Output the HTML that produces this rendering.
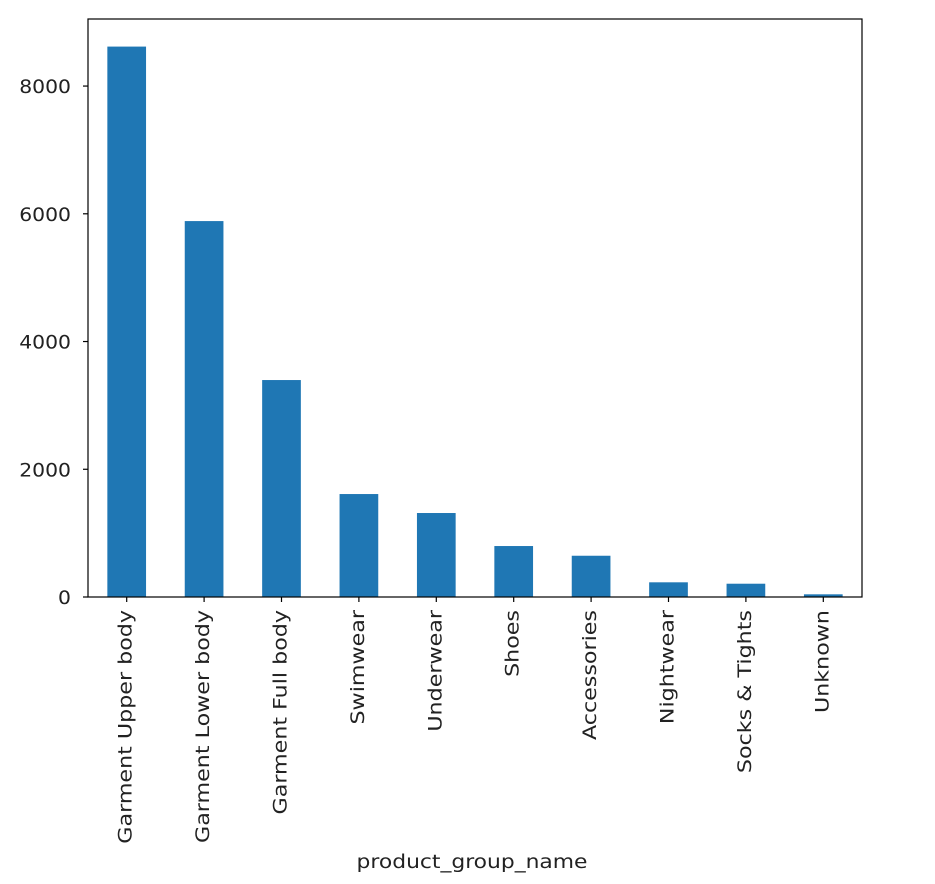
<!DOCTYPE html>
<html><head><meta charset="utf-8"><style>
html,body{margin:0;padding:0;background:#fff;}
svg{display:block;font-family:"DejaVu Sans","Liberation Sans",sans-serif;}
</style></head><body>
<svg id="chart" width="935" height="884" xmlns="http://www.w3.org/2000/svg"></svg>
<script>
const categories = ["Garment Upper body","Garment Lower body","Garment Full body","Swimwear","Underwear","Shoes","Accessories","Nightwear","Socks & Tights","Unknown"];
const values = [8618, 5886, 3397, 1612, 1315, 798, 646, 230, 208, 42];
const yTicks = [0, 2000, 4000, 6000, 8000];
const yTickLabels = ["0","2000","4000","6000","8000"];
const xLabel = "product_group_name";

const svg = document.getElementById('chart');
const NS = "http://www.w3.org/2000/svg";
const L = 88, R = 862, T = 19, B = 597;
const yMax = 9050;
const FS = 18.5;
function y(v){ return B - v / yMax * (B - T); }
const step = (R - L) / categories.length;
function xc(i){ return L + step * (i + 0.5); }
function mk(tag, attrs){ const e = document.createElementNS(NS, tag); for (const k in attrs) e.setAttribute(k, attrs[k]); svg.appendChild(e); return e; }

values.forEach((v, i) => {
  const w = step * 0.5;
  const r = mk('rect', {x: xc(i) - w/2, y: y(v), width: w, height: B - y(v), fill: '#1f77b4'});
  
  
});

yTicks.forEach((t, i) => {
  const ln = mk('line', {x1: L - 5, x2: L, y1: y(t), y2: y(t), stroke: '#000', 'stroke-width': 1.2});
  
  
  const tx = mk('text', {x: 0, y: 0, 'text-anchor': 'end', 'font-size': FS, fill: '#222', transform: `translate(${L - 17},${y(t) + 7}) scale(1.1,1)`});
  tx.textContent = yTickLabels[i];
  
  
});

categories.forEach((c, i) => {
  const ln = mk('line', {x1: xc(i), x2: xc(i), y1: B, y2: B + 5, stroke: '#000', 'stroke-width': 1.2});
  
  
  const tx = mk('text', {x: 0, y: 0, 'text-anchor': 'end', 'font-size': FS, fill: '#222', transform: `translate(${xc(i) + 5},${B + 13}) rotate(-90) scale(1.2,1)`});
  tx.textContent = c;
  
  
});

const frame = mk('rect', {x: L, y: T, width: R - L, height: B - T, fill: 'none', stroke: '#000', 'stroke-width': 1.2});



const xt = mk('text', {x: 0, y: 0, 'text-anchor': 'middle', 'font-size': FS, fill: '#222', transform: `translate(472,868) scale(1.18,1)`});
xt.textContent = xLabel;


</script>
</body></html>
